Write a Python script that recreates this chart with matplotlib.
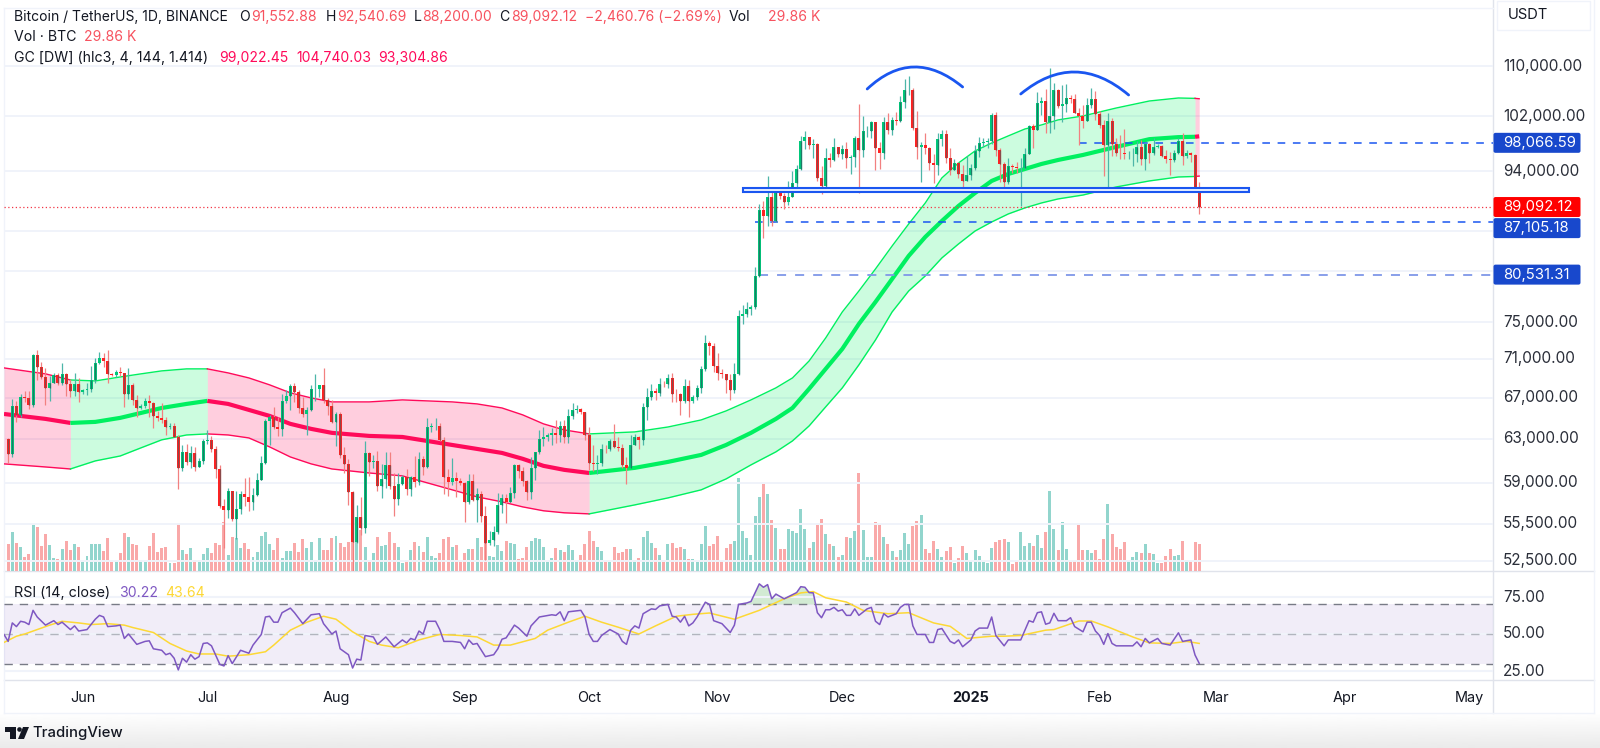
import numpy as np
import matplotlib
matplotlib.use('Agg')
from matplotlib import pyplot as plt
from matplotlib.path import Path
from matplotlib.patches import PathPatch, Rectangle, Polygon, Circle, FancyBboxPatch

plt.rcParams['font.family'] = ['Inter', 'DejaVu Sans']

W, H = 1600, 748

# x axis is days since 2024-05-13, candles start the day after
first_open = 62940

closes = [
    61577,66206,65235,67024,66915,66274,71446,70136,69122,67929,68526,69265,68518,69394,68366,67635,68354,67530,
    67760,67819,68805,70568,71082,70758,69355,69305,69649,69508,67314,68241,66756,66011,66191,66639,66490,65140,64960,64828,64097,64245,63180,60277,61806,60864,61706,60428,60986,62772,
    62900,62030,60200,57000,56650,58240,55860,56700,58010,57730,57340,57890,59200,60800,64700,65040,64100,63970,66700,67150,68160,67530,65930,65370,65770,67900,67900,68250,66800,66200,64620,
    65350,61500,60700,58160,54000,56030,55130,61700,60880,60950,58710,59350,60600,58700,57550,58880,59500,58450,59490,59020,61150,60380,64100,64180,64250,62850,59500,59030,59370,59120,58970,
    57300,59130,57480,57970,56160,53950,54150,54840,57050,57650,57340,58130,60570,60010,59140,58210,60310,61760,62950,63200,63350,63580,63340,64260,63150,65180,65770,65860,65600,63330,
    60800,60650,60750,62090,62060,62820,62220,62130,60580,60270,62450,63200,62850,66050,67040,67620,67420,68400,68360,69000,67370,67360,66650,68170,66630,67020,67950,69900,72720,72340,70200,
    69490,69370,68780,67810,69360,75640,75900,76540,76700,80370,88650,87950,90370,87250,91060,90580,89800,90460,92300,94286,98317,98892,97672,97900,93010,91965,95863,95640,97460,96400,
    97185,95840,96000,98768,96950,99740,99830,101110,97360,96590,101120,100000,101400,101370,104300,106050,106140,100200,97460,97800,97290,95190,94880,98690,99400,95800,94160,95160,93530,92640,93430,
    94400,96890,98100,98200,98300,102250,96950,95000,92500,94700,94550,94500,94500,96500,100500,99950,104100,104450,101100,102000,106150,103650,103960,104800,104700,102600,102100,101300,103700,104700,102400,
    100650,97700,101300,97870,96600,96550,96450,96460,96480,97400,95780,97870,96600,97500,97570,96120,95770,95540,96600,98350,96130,96580,96270,91552,89092,
]
highs = [
    63120,66870,66680,67400,67700,67700,71500,71950,70650,70050,69200,69550,69500,70600,69560,68900,69500,69000,
    67860,68450,70280,71050,71750,71600,71950,69550,69850,70150,69550,70000,68450,67300,66400,66950,67300,66600,65700,66450,65050,64500,64500,63350,62400,62500,62300,62200,61200,63000,
    63850,63300,62300,60600,57550,58490,58250,58250,58300,59450,59500,58500,59850,61400,64900,65300,66100,65100,67400,67800,68350,68450,67800,67100,66100,68300,69400,68300,70000,67000,66800,
    65600,65600,62200,61100,58300,57050,57750,62750,61750,61450,61850,60700,61800,61800,59850,59850,59700,60250,59600,61400,61800,61400,64950,64500,64950,64500,63200,60200,61200,59950,59450,
    59050,59800,59800,58500,58300,57000,54850,55300,58100,58050,58000,58600,60650,60650,60400,59200,61300,61800,63850,64150,63550,64000,64750,64650,64800,65850,66500,66250,66000,65600,
    64100,62400,61450,62500,62400,62950,64450,63200,62500,61300,63400,63450,63300,66500,67950,68400,68000,69000,68650,69450,69500,67850,67450,68850,68750,67300,68250,70250,73600,72950,72700,
    71600,69950,69450,69450,70550,76400,77000,77250,77000,81500,89550,89950,93250,91800,91850,91750,91000,92600,94000,94900,99000,99800,98800,98600,98000,94700,97300,96650,98700,97450,
    97800,98150,96250,99100,103900,102000,100500,101300,101200,98250,101900,102500,101850,102650,105250,107800,108350,106500,102800,98150,99500,97450,96400,99450,99950,99950,97350,95650,95350,94900,96150,
    94950,97800,98950,98750,98800,102500,102700,97250,95350,95800,95050,95300,95900,97350,100700,100800,105850,104950,106300,109600,107250,106300,106850,107100,105300,105450,103250,103800,104800,106450,106000,
    102800,101500,102500,101750,98800,99200,100150,96900,97300,98350,98500,98100,98100,98800,97950,97700,97050,96700,97000,98800,99500,96950,96700,96500,92540,
]
lows = [
    60750,61300,64600,65100,66600,65850,66060,68800,68850,66300,66700,68500,68300,68250,67200,67100,67150,66600,
    67400,67300,67600,68500,70400,70100,68500,69200,69100,69200,66050,66900,66300,65050,65890,66000,65100,64050,64650,64550,63400,63900,63150,58400,60000,60550,60350,60000,60370,60700,
    62500,61800,59450,56770,53500,56000,55700,54250,56300,56980,56550,56600,57800,59200,60650,62400,63900,63250,63300,66500,65800,66550,65450,65100,63400,65700,66650,67050,66500,65300,64500,
    62300,61200,59850,57100,49000,53900,54550,54750,59600,60300,58300,57650,58500,58400,56100,57100,58800,57900,57850,58600,58800,59700,60350,63600,63800,62800,58000,57850,58750,57750,58750,
    55600,57150,57400,55600,55650,52550,53750,53650,54600,56400,55550,57300,57650,59450,58700,57500,57600,59200,61600,62350,62750,62400,62650,62700,62650,62650,64850,65450,65400,62900,
    60150,60000,59800,60450,61650,61850,62100,61850,60300,58900,60400,62400,62050,62450,64800,66750,66800,67200,68100,68000,66550,66550,65250,66500,65050,66500,66800,67500,69700,71450,69650,
    68800,69000,67450,66800,67450,69350,74800,75600,75750,76500,80250,85100,86600,86650,87100,90100,88800,89350,91500,91500,94100,97200,97200,95800,92600,90800,91500,94650,95400,96000,
    95700,94500,93600,94650,91000,95950,98850,98700,94150,94250,95650,99300,99200,100650,101200,103300,105300,100000,95700,92500,96400,94200,92400,93400,97600,95100,93500,94100,93000,91500,92900,
    92800,94200,96000,97500,97250,97900,96100,92500,91200,92200,93800,93700,89250,94300,96450,97300,99950,102300,99500,99500,100100,103300,101200,102750,104100,102500,97800,100300,101300,103300,101500,
    100300,93350,91230,96150,96150,95650,95650,95700,94700,95250,94850,94100,95200,96250,97250,96050,95200,93400,95300,96450,94870,95800,95250,91370,88200,
]
volumes = [
    27,39,28,24,14,17,46,44,25,37,26,13,12,22,30,21,27,24,
    9,15,27,27,27,20,33,9,10,18,38,34,27,26,11,9,25,38,19,23,24,8,8,47,21,17,23,11,11,17,
    23,18,28,26,49,16,34,33,23,28,22,14,19,35,39,27,21,33,13,20,20,28,19,32,23,29,11,33,21,21,33,
    35,28,24,29,60,38,41,24,9,18,34,25,26,39,28,24,8,11,21,29,25,19,34,15,13,18,32,34,24,26,9,
    18,22,22,33,24,28,15,14,26,20,30,28,27,12,13,24,30,33,32,24,9,13,23,21,19,26,21,9,16,27,
    40,30,24,20,9,9,24,18,19,22,22,11,13,34,40,28,23,16,11,27,28,23,24,22,12,12,9,27,45,25,27,
    35,10,23,27,30,93,40,33,16,55,74,87,77,51,43,22,22,42,40,38,62,42,23,29,46,52,37,27,25,14,
    16,34,33,40,98,41,14,14,49,46,34,27,20,14,21,38,27,45,50,56,22,18,30,22,14,20,24,8,13,25,18,
    10,21,15,9,8,23,29,31,32,29,7,9,39,25,28,25,36,23,39,80,42,21,49,22,9,10,46,21,21,18,21,
    12,32,67,37,24,22,29,10,14,19,18,27,18,17,8,8,15,22,15,16,30,11,10,29,27,
]

# Gaussian channel
band_days = [0,10,16,22,28,33,38,44,49,54,59,64,69,74,79,88,96,108,114,120,125,130,135,141,152,160,168,174,180,186,190,194,198,202,206,210,214,218,222,226,230,234,238,242,246,250,254,260,268,276,283,287,288]
band_mid = [65380,64900,64510,64610,65000,65480,65970,66370,66670,66370,65780,65190,64420,63940,63560,63270,63170,62420,62050,61680,61140,60500,60140,59860,60320,60860,61500,62420,63560,64900,65970,67880,69940,72060,74800,77300,80000,82810,85190,87250,89230,90980,92630,93600,94300,95010,95580,96300,97460,98600,98900,98950,99022]
band_up = [70040,69420,68790,68690,69100,69420,69730,69940,69940,69520,69000,68290,67480,66970,66570,66570,66770,66570,66370,65970,65290,64420,63840,63460,63650,64120,64800,65680,66770,67980,69000,70770,73250,76150,78580,81210,84040,86860,89630,93050,95150,96880,98040,99080,100110,100720,101480,102080,103300,104390,104860,104800,104740]
band_lo = [60680,60400,60220,60950,61400,62150,62900,63360,63460,63360,63080,62240,61310,60680,60220,59860,59600,58370,57760,57330,56900,56570,56400,56310,57070,57670,58370,59330,60590,61780,62800,64220,66080,67980,70360,73030,76150,78580,80370,82560,84300,85950,87120,88170,88970,89630,90170,90700,91800,92630,93180,93250,93305]
band_turns = [0, 16, 49, 141, 287, 288]

rsi_days = [0,1,2,3,4,5,6,7,8,10,12,13,14,16,17,18,20,22,23,24,25,27,28,29,30,32,34,35,36,38,39,40,41,42,43,44,45,46,47,48,49,50,52,53,54,55,57,59,60,62,63,64,65,66,67,69,70,72,74,76,77,79,80,81,83,84,85,86,87,89,90,92,94,96,97,98,99,100,101,102,104,105,106,108,110,111,112,113,114,116,118,119,120,121,123,124,126,127,129,132,133,134,135,136,139,140,141,142,143,
    144,146,148,149,150,151,152,153,154,156,157,158,160,161,162,163,164,165,166,167,169,170,171,173,175,176,177,179,180,182,183,184,185,186,188,191,192,193,194,195,196,197,198,199,200,201,202,203,204,205,206,208,209,210,211,212,213,215,216,217,218,219,220,222,223,224,225,226,228,229,230,231,233,234,235,237,238,239,241,242,245,247,248,249,250,251,252,253,254,256,257,258,260,261,262,263,264,265,266,267,268,272,273,274,275,276,278,279,281,283,284,286,287,288]
rsi_vals = [49.7,45,57.5,55,58.6,58,56.4,66,61.5,56,59,56.4,58,53,55.5,52,53,60,62.6,61.5,55,55.5,56,47,50,43,45,45.4,40,39,36,37,33.6,25.7,33.6,31,36,33,34.7,43.6,44,42,29.5,28.4,35.4,30,39,37,42.5,49.7,61.5,62,58,58,64.4,67.5,64.4,57,63,63.7,57,50,52,40,36,27,33,32.4,49,48,43,48,41.4,46,44,47,46,52,50,58.6,58.6,53,45,45,44.3,40,46,43,43.6,34.7,36,40,46.5,47.4,56,54,48.5,55.5,61.5,63,62.6,65,59,65,66,61.5,49.7,45,45,
    49,53,50,45,43,52.5,55.5,54,63.7,67,66.6,69,70,62,61.5,58,62,55.5,57.5,61.5,71.5,70,59,57,51,56,70,71,72,83.9,81.6,83.4,73.8,77,73.8,78,82,81.6,78,77.8,64.4,61,66.4,66.4,68,65.5,66.4,62.6,62.6,67,62.6,67,68,58.6,56.4,63.7,61.5,63.7,68,70,70,55.5,49.7,49.7,44.3,44.3,53,53.7,45,43.6,46,41.4,46,52,54,54,61.5,49,42,46,46,59,58,64.4,65,56.6,57.5,64,59,59,61,55,51.5,58,58,52,49,43,50.3,43.6,42,42,44.7,41.4,47,44,47,43.6,42.5,50.8,45,46,35.8,30.22]
rsi_ma_days = [0,3,5,8,11,14,18,21,25,29,31,36,40,44,47,51,54,59,63,65,69,73,77,80,84,88,91,95,100,105,110,114,118,122,128,131,136,140,144,148,153,157,162,166,170,176,182,188,192,195,198,203,207,213,218,224,228,232,238,241,245,251,253,259,262,266,272,276,281,285,288]
rsi_ma_vals = [44.3,48.5,50,53,56,58.6,57.5,56.4,57,56,54.4,51,43.6,38.5,36.5,36.5,35,36,38,42.5,52.6,58,62,60,51.5,45,42.5,40.7,46,49.7,49,48,42.5,42.5,47,52.6,58,62,58,54.6,50,55.5,62,63.3,64.2,60,66,73.8,77.8,78.7,74.5,71.6,66,63.7,64.4,57.5,55.2,47,48.5,48.5,49,52.6,53,58.8,58.8,54.8,48,44,43.6,45,43.64]

grid_prices = [110000,102000,94000,86000,81000,75000,71000,67000,63000,59000,55500,52500]
price_labels = [110000,102000,94000,75000,71000,67000,63000,59000,55500,52500]
rsi_labels = [75, 50, 25]
month_days = [19,49,80,111,141,172,202,233,264,292,323,353]
month_names = ['Jun','Jul','Aug','Sep','Oct','Nov','Dec','2025','Feb','Mar','Apr','May']

level_upper = 98066.59
level_mid = 87105.18
level_low = 80531.31
last_close = 89092.12
zone_top, zone_bottom = 91670, 91050

PINK = '#ff0a5a'
GREEN = '#00f060'
BLUE = '#1a56f0'
INK = '#131722'
RED_TXT = '#f7525f'

days = np.arange(1, len(closes) + 1)
closes = np.array(closes, dtype=float)
opens = np.r_[first_open, closes[:-1]]
highs = np.array(highs, dtype=float)
lows = np.array(lows, dtype=float)
volumes = np.array(volumes, dtype=float)
up = closes >= opens
band_days = np.array(band_days)
band_mid = np.array(band_mid, dtype=float)
band_up = np.array(band_up, dtype=float)
band_lo = np.array(band_lo, dtype=float)
rsi_days = np.array(rsi_days)
rsi_vals = np.array(rsi_vals)

XMAX = 358.8
fig = plt.figure(figsize=(16, 7.48), dpi=100, facecolor='white')


def pane(left, top, right, bottom):
    return fig.add_axes([left / W, 1 - bottom / H, (right - left) / W, (bottom - top) / H])


def label(x, y, s, color=INK, size=10.1, **kw):
    fig.text(x / W, 1 - y / H, s, color=color, fontsize=size, va='center', **kw)


# page background and TradingView logo
bg = pane(0, 0, W, H)
bg.axis('off')
bg.imshow(np.linspace(1, 0.92, 35)[:, None], cmap='gray', vmin=0, vmax=1, aspect='auto', extent=(0, W, 748, 713))
bg.set_xlim(0, W)
bg.set_ylim(H, 0)
for left, top, right, bottom in [(1494, 0, 1594, 713), (4, 8, 1494, 713)]:
    bg.add_patch(Rectangle((left, top), right - left, bottom - top, fc='white', ec='none'))
bg.plot([4, 1594], [680, 680], color='#e0e3eb', lw=1)
bg.plot([4, 1594], [571, 571], color='#e0e3eb', lw=1)
bg.plot([1493, 1493], [0, 713], color='#e0e3eb', lw=1)
bg.plot([4, 1594], [713, 713], color='#f0f3fa', lw=1)
bg.plot([4, 1493], [8, 8], color='#f0f3fa', lw=1)
bg.plot([4, 4], [8, 713], color='#f0f3fa', lw=1)
bg.plot([1594, 1594], [0, 713], color='#f0f3fa', lw=1)
bg.add_patch(Rectangle((1497, 1), 93, 29, fc='white', ec='#f0f3fa', lw=1))
bg.add_patch(Polygon([(5, 727), (16, 727), (16, 739), (10, 739), (10, 732), (5, 732)], fc='#131722', ec='none'))
bg.add_patch(Circle((19.5, 729.5), 2.3, fc='#131722', ec='none'))
bg.add_patch(Polygon([(23, 727), (29, 727), (24, 739), (18, 739)], fc='#131722', ec='none'))

# volume sits behind the price pane
vol_ax = pane(4, 8, 1493, 571)
vol_ax.set_xlim(0, XMAX)
vol_ax.set_ylim(0, 563)
vol_ax.axis('off')
vol_ax.bar(days, volumes, width=0.72, color=np.where(up, '#92d5cd', '#f9a9a9'), linewidth=0)

ax = pane(4, 8, 1493, 571)
ax.patch.set_alpha(0)
ax.set_yscale('log')
ax.set_xlim(0, XMAX)
ax.set_ylim(51700, 119960)
ax.axis('off')

for p in grid_prices:
    ax.plot([0, XMAX], [p, p], color='#f0f3fa', lw=1.4, zorder=0)

# channel, colour flips at band_turns
for i in range(len(band_turns) - 1):
    a, b = band_turns[i], band_turns[i + 1]
    m = (band_days >= a) & (band_days <= b)
    c = PINK if i % 2 == 0 else GREEN
    ax.fill_between(band_days[m], band_lo[m], band_up[m], color=c, alpha=0.2, linewidth=0, zorder=1)
    ax.plot(band_days[m], band_up[m], color=c, lw=1, zorder=2)
    ax.plot(band_days[m], band_lo[m], color=c, lw=1, zorder=2)
    ax.plot(band_days[m], band_mid[m], color=c, lw=3, zorder=2, solid_capstyle='butt')

# horizontal levels
ax.plot([0, XMAX], [last_close, last_close], color='#f23645', lw=0.9, ls=(0, (1, 2)), zorder=2)
ax.plot([259, XMAX], [level_upper, level_upper], color=BLUE, lw=1.1, ls=(0, (5, 5)), zorder=2)
ax.plot([181, XMAX], [level_mid, level_mid], color=BLUE, lw=1.1, ls=(0, (5, 5)), zorder=2)
ax.plot([182, XMAX], [level_low, level_low], color='#7f97e8', lw=1.3, ls=(0, (5, 5)), zorder=2)

# candles
wick_col = np.where(up, '#4db6a8', '#f28080')
ax.vlines(days, lows, highs, colors=wick_col, lw=0.9, zorder=3)
tops = np.maximum(opens, closes)
bots = np.minimum(opens, closes)
ax.bar(days, tops - bots, bottom=bots, width=0.72, color=np.where(up, '#00c87a', '#ff2222'), linewidth=0, zorder=4)
big = (tops - bots) / bots > 0.008
ax.vlines(days[big], bots[big], tops[big], colors=np.where(up[big], '#1f7a66', '#8a4a4a'), lw=0.9, zorder=5)

# neckline zone
ax.add_patch(Rectangle((178, zone_bottom), 122, zone_top - zone_bottom, fc='#e8f0ff', ec=BLUE, lw=1.5, zorder=6))

# double top arcs
for start, ctrl, end in [((208, 106280), (219, 113340), (231, 106600)), ((245, 105490), (258, 112750), (271, 105330))]:
    ax.add_patch(PathPatch(Path([start, ctrl, end], [Path.MOVETO, Path.CURVE3, Path.CURVE3]),
                           fc='none', ec=BLUE, lw=2, capstyle='round', zorder=7))

# RSI pane
rsi_ax = pane(4, 571, 1493, 680)
rsi_ax.patch.set_alpha(0)
rsi_ax.set_xlim(0, XMAX)
rsi_ax.set_ylim(18.9, 92.6)
rsi_ax.axis('off')
rsi_ax.axhspan(30, 70, color='#7e57c2', alpha=0.1, linewidth=0)
for v in rsi_labels:
    rsi_ax.plot([0, XMAX], [v, v], color='#f0f3fa', lw=1.5)
rsi_ax.plot([0, XMAX], [70, 70], color='#787b86', lw=1, ls=(0, (6, 5)))
rsi_ax.plot([0, XMAX], [30, 30], color='#787b86', lw=1, ls=(0, (6, 5)))
rsi_ax.plot([0, XMAX], [50, 50], color='#b2b5be', lw=1, ls=(0, (6, 5)))
rsi_ax.fill_between(rsi_days, 70, rsi_vals, where=rsi_vals > 70, color='#4caf50', alpha=0.25, linewidth=0, interpolate=True)
rsi_ax.plot(rsi_ma_days, rsi_ma_vals, color='#fdd835', lw=1.1)
rsi_ax.plot(rsi_days, rsi_vals, color='#7e57c2', lw=1.1)

# header text
label(14, 17, 'Bitcoin / TetherUS, 1D, BINANCE', size=10)
for x, s, c in [(239, 'O', INK), (251, '91,552.88', RED_TXT), (326, 'H', INK), (337, '92,540.69', RED_TXT),
                (414, 'L', INK), (422, '88,200.00', RED_TXT), (499, 'C', INK), (511, '89,092.12', RED_TXT),
                (585, '−2,460.76 (−2.69%)', RED_TXT), (729, 'Vol', INK), (768, '29.86 K', RED_TXT)]:
    label(x, 17, s, c)
label(14, 37, 'Vol · BTC', size=10.2)
label(84, 37, '29.86 K', RED_TXT)
label(14, 58, 'GC [DW] (hlc3, 4, 144, 1.414)', size=10.2)
for x, s in [(219, '99,022.45'), (296, '104,740.03'), (378, '93,304.86')]:
    label(x, 58, s, PINK)
label(14, 593, 'RSI (14, close)', size=10.3)
label(119, 593, '30.22', '#7e57c2')
label(165, 593, '43.64', '#fdd835')

# right scale, same mapping as the panes
to_y = lambda p: 66 + 669 * np.log(110000 / p)
for p in price_labels:
    label(1503, to_y(p), f'{p:,.2f}', '#2a2e39', size=11)
for v in rsi_labels:
    label(1503, 597 + (75 - v) * 1.48, f'{v:.2f}', '#2a2e39', size=11)
label(1508, 15, 'USDT', size=10.6)

for p, col in [(level_upper, '#1848cc'), (last_close, '#ff0000'), (level_mid, '#1848cc'), (level_low, '#1848cc')]:
    yc = to_y(p)
    if p == level_mid:
        yc += 6
    bg.add_patch(FancyBboxPatch((1495, yc - 8.5), 84, 17, boxstyle='round,pad=1.5,rounding_size=2', fc=col, ec='none', zorder=5))
    label(1503, yc, f'{p:,.2f}', 'white', size=10.7)

# time axis
for d, name in zip(month_days, month_names):
    label(4 + d * 4.15, 698, name, INK, size=10.4, ha='center', fontweight='bold' if name == '2025' else 'normal')

label(32, 733, 'TradingView', '#131722', size=10.7, fontweight='medium')

fig.savefig('out.png', dpi=100)
